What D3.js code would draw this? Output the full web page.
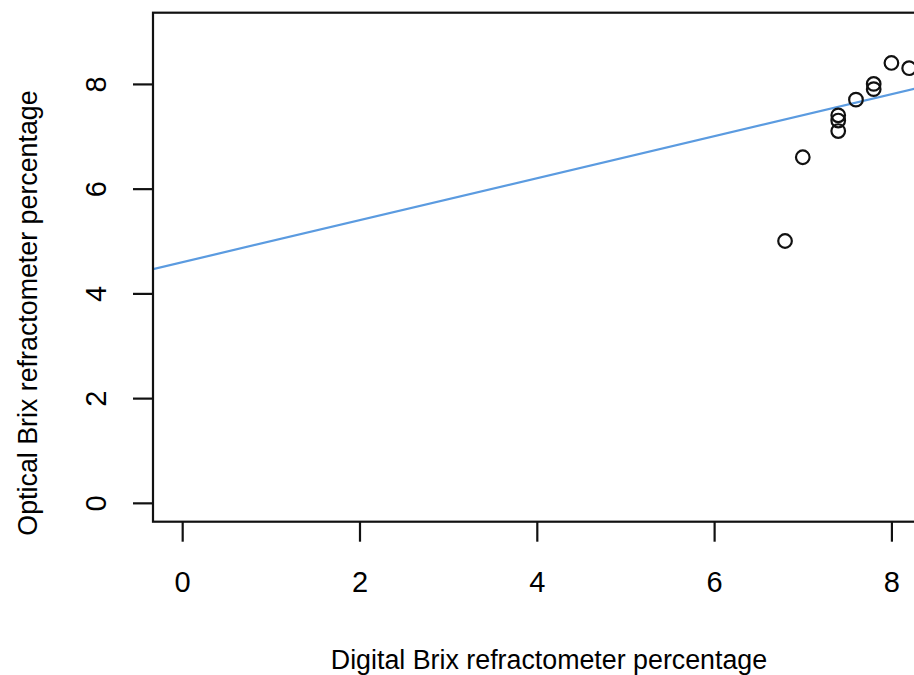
<!DOCTYPE html>
<html>
<head>
<meta charset="utf-8">
<script src="https://cdn.jsdelivr.net/npm/d3@7"></script>
<style>
  html, body { margin: 0; padding: 0; background: #fff; }
  svg { display: block; }
  text { font-family: "Liberation Sans", Arial, Helvetica, sans-serif; fill: #000; }
</style>
</head>
<body>
<script>
// Digital vs optical Brix readings
const digitalBrix = [6.8, 7.0, 7.4, 7.4, 7.4, 7.6, 7.8, 7.8, 8.0, 8.2];
const opticalBrix = [5.0, 6.6, 7.4, 7.3, 7.1, 7.7, 8.0, 7.9, 8.4, 8.3];

// Fitted line: optical = intercept + slope * digital
const fitIntercept = 4.595;
const fitSlope = 0.401;

// Axis limits and tick values
const xLimits = [0, 8.23];
const yLimits = [0, 9];
const xTicks = [0, 2, 4, 6, 8];
const yTicks = [0, 2, 4, 6, 8];

const xLabel = "Digital Brix refractometer percentage";
const yLabel = "Optical Brix refractometer percentage";

const W = 914, H = 675;
const plot = { left: 153, right: 941, top: 12.7, bottom: 521.7 };
const titleSize = 26.8;
const tickSize = 29;

// R-style 4% padding around the limits
const pad = (lim) => { const r = lim[1] - lim[0]; return [lim[0] - 0.04 * r, lim[1] + 0.04 * r]; };

const x = d3.scaleLinear().domain(pad(xLimits)).range([plot.left, plot.right]);
const y = d3.scaleLinear().domain(pad(yLimits)).range([plot.bottom, plot.top]);

const svg = d3.select("body").append("svg").attr("width", W).attr("height", H);

// Clip region for the data marks
svg.append("clipPath").attr("id", "plotclip")
  .append("rect")
  .attr("x", plot.left).attr("y", plot.top)
  .attr("width", plot.right - plot.left).attr("height", plot.bottom - plot.top);

const marks = svg.append("g").attr("clip-path", "url(#plotclip)");

// Regression line across the plotting region
const [x0, x1] = x.domain();
marks.append("line")
  .attr("x1", x(x0)).attr("y1", y(fitIntercept + fitSlope * x0))
  .attr("x2", x(x1)).attr("y2", y(fitIntercept + fitSlope * x1))
  .attr("stroke", "#5b9be0").attr("stroke-width", 2.2);

// Open circle points
marks.selectAll("circle")
  .data(digitalBrix.map((d, i) => [d, opticalBrix[i]]))
  .join("circle")
  .attr("cx", d => x(d[0])).attr("cy", d => y(d[1]))
  .attr("r", 6.8)
  .attr("fill", "none").attr("stroke", "#111").attr("stroke-width", 2.2);

// Plot frame
svg.append("rect")
  .attr("x", plot.left).attr("y", plot.top)
  .attr("width", plot.right - plot.left).attr("height", plot.bottom - plot.top)
  .attr("fill", "none").attr("stroke", "#111").attr("stroke-width", 2.2);

// Bottom axis
const xAxis = svg.append("g")
  .attr("transform", `translate(0,${plot.bottom})`)
  .call(d3.axisBottom(x).tickValues(xTicks).tickSize(20).tickFormat(d3.format("d")));
xAxis.select(".domain").remove();
xAxis.selectAll(".tick line").attr("stroke", "#111").attr("stroke-width", 2.2);
xAxis.selectAll(".tick text")
  .attr("font-size", tickSize).attr("fill", "#000").attr("font-family", null)
  .attr("y", 70).attr("dy", null);

// Left axis with rotated labels
const yAxis = svg.append("g")
  .attr("transform", `translate(${plot.left},0)`)
  .call(d3.axisLeft(y).tickValues(yTicks).tickSize(20).tickFormat(d3.format("d")));
yAxis.select(".domain").remove();
yAxis.selectAll(".tick line").attr("stroke", "#111").attr("stroke-width", 2.2);
yAxis.selectAll(".tick text")
  .attr("font-size", tickSize).attr("fill", "#000").attr("font-family", null)
  .attr("x", null).attr("dy", null)
  .attr("text-anchor", "middle")
  .attr("transform", `translate(${106 - plot.left},0) rotate(-90)`);

// Axis titles
svg.append("text")
  .attr("x", 549).attr("y", 669)
  .attr("text-anchor", "middle").attr("font-size", titleSize)
  .text(xLabel);

svg.append("text")
  .attr("transform", `translate(37,313) rotate(-90)`)
  .attr("text-anchor", "middle").attr("font-size", titleSize)
  .text(yLabel);
</script>
</body>
</html>
